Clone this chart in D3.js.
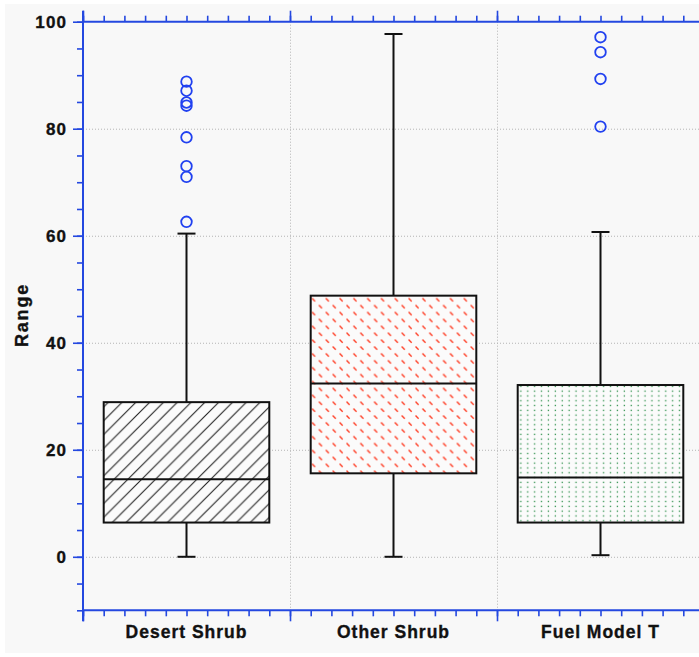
<!DOCTYPE html>
<html>
<head>
<meta charset="utf-8">
<script src="https://cdn.jsdelivr.net/npm/d3@7"></script>
<style>
  html, body { margin: 0; padding: 0; background: #ffffff; }
  svg { display: block; }
  text { font-family: "Liberation Sans", Arial, sans-serif; font-weight: bold; fill: #111; stroke: #111; stroke-width: 0.35px; }
</style>
</head>
<body>
<svg id="chart" width="699" height="657"></svg>
<script>
// Categories and box-plot summaries (Range values)
const categories = ["Desert Shrub", "Other Shrub", "Fuel Model T"];
const whiskerLow  = [0.0, 0.0, 0.3];
const q1          = [6.4, 15.6, 6.4];
const median      = [14.5, 32.4, 14.8];
const q3          = [28.9, 48.8, 32.1];
const whiskerHigh = [60.4, 97.7, 60.7];
const outliers = [
  [88.8, 87.1, 84.9, 84.3, 78.4, 73.0, 71.0, 62.6],
  [],
  [97.1, 94.3, 89.3, 80.4]
];
const patternIds = ["hatchDesert", "dashOther", "dotsFuel"];

// Axis ticks
const yMajorTicks = [0, 20, 40, 60, 80, 100];
const yMinorTicks = d3.range(-10, 100.001, 5);
const yGridTicks  = [0, 20, 40, 60, 80];

const W = 699, H = 657;
const plotLeft = 83, plotRight = 704, plotTop = 21.7, plotBottom = 610.3;
const axisBlue = "#2448e0";

const svg = d3.select("#chart");

// Background panel
svg.append("rect").attr("x", 0).attr("y", 0).attr("width", W).attr("height", H).attr("fill", "#ffffff");
svg.append("rect").attr("x", 5).attr("y", 4).attr("width", W - 5).attr("height", H - 8).attr("fill", "#f8f8f8");

// Fill patterns
const defs = svg.append("defs");
const p1 = defs.append("pattern").attr("id", "hatchDesert").attr("patternUnits", "userSpaceOnUse")
  .attr("width", 13.8).attr("height", 13.8);
p1.append("rect").attr("width", 13.8).attr("height", 13.8).attr("fill", "#fbfbfb");
p1.append("path").attr("d", "M-1,14.8 L14.8,-1 M-4,4 L4,-4 M9.8,17.8 L17.8,9.8")
  .attr("stroke", "#222").attr("stroke-width", 1.1).attr("fill", "none");

const p2 = defs.append("pattern").attr("id", "dashOther").attr("patternUnits", "userSpaceOnUse")
  .attr("width", 13.8).attr("height", 13.8);
p2.append("rect").attr("width", 13.8).attr("height", 13.8).attr("fill", "#fbfbfb");
p2.append("path").attr("d", "M1.5,1.5 L4.6,4.6 M8.4,8.4 L11.5,11.5")
  .attr("stroke", "#ff3b22").attr("stroke-width", 1.4).attr("fill", "none");

const p3 = defs.append("pattern").attr("id", "dotsFuel").attr("patternUnits", "userSpaceOnUse")
  .attr("width", 6.9).attr("height", 4.8);
p3.append("rect").attr("width", 6.9).attr("height", 4.8).attr("fill", "#fbfbfb");
p3.append("rect").attr("x", 2.7).attr("y", 1.7).attr("width", 1.3).attr("height", 1.3).attr("fill", "#2a8f48");

// Scales
const x = d3.scaleBand().domain(categories).range([plotLeft, plotRight]).paddingInner(0).paddingOuter(0);
const y = d3.scaleLinear().domain([-10, 100]).range([plotBottom, plotTop]);
const xMinor = d3.scaleLinear().domain([0, categories.length]).range([plotLeft, plotRight]);

// Grid lines (dotted)
const grid = svg.append("g").attr("stroke", "#b4b4b4").attr("stroke-width", 1).attr("stroke-dasharray", "1,2");
grid.selectAll("line.h").data(yGridTicks).join("line").attr("class", "h")
  .attr("x1", plotLeft).attr("x2", plotRight).attr("y1", d => y(d) + 0.5).attr("y2", d => y(d) + 0.5);
grid.selectAll("line.v").data(categories.slice(1)).join("line").attr("class", "v")
  .attr("x1", d => x(d) + 0.5).attr("x2", d => x(d) + 0.5).attr("y1", plotTop).attr("y2", plotBottom);

// Box plots
const boxW = x.bandwidth() * 0.8;
const capW = 18;
const boxes = svg.append("g");
categories.forEach((c, i) => {
  const cx = x(c) + x.bandwidth() / 2;
  const g = boxes.append("g");
  // whiskers
  g.append("line").attr("x1", cx).attr("x2", cx).attr("y1", y(q3[i])).attr("y2", y(whiskerHigh[i]))
    .attr("stroke", "#111").attr("stroke-width", 2);
  g.append("line").attr("x1", cx).attr("x2", cx).attr("y1", y(q1[i])).attr("y2", y(whiskerLow[i]))
    .attr("stroke", "#111").attr("stroke-width", 2);
  g.append("line").attr("x1", cx - capW / 2).attr("x2", cx + capW / 2)
    .attr("y1", y(whiskerHigh[i])).attr("y2", y(whiskerHigh[i])).attr("stroke", "#111").attr("stroke-width", 2);
  g.append("line").attr("x1", cx - capW / 2).attr("x2", cx + capW / 2)
    .attr("y1", y(whiskerLow[i])).attr("y2", y(whiskerLow[i])).attr("stroke", "#111").attr("stroke-width", 2);
  // box
  g.append("rect").attr("x", cx - boxW / 2).attr("y", y(q3[i]))
    .attr("width", boxW).attr("height", y(q1[i]) - y(q3[i]))
    .attr("fill", `url(#${patternIds[i]})`).attr("stroke", "#111").attr("stroke-width", 2);
  // median
  g.append("line").attr("x1", cx - boxW / 2).attr("x2", cx + boxW / 2)
    .attr("y1", y(median[i])).attr("y2", y(median[i])).attr("stroke", "#111").attr("stroke-width", 2);
  // outliers
  g.selectAll("circle").data(outliers[i]).join("circle")
    .attr("cx", cx).attr("cy", d => y(d)).attr("r", 5.3)
    .attr("fill", "none").attr("stroke", "#2141f0").attr("stroke-width", 1.8);
});

// Axes
const axes = svg.append("g");
// left minor ticks
axes.append("g").attr("transform", `translate(${plotLeft},0)`)
  .call(d3.axisLeft(y).tickValues(yMinorTicks).tickSize(6).tickFormat(""))
  .call(g => g.select(".domain").remove());
// left major ticks with labels
const yMajor = axes.append("g").attr("transform", `translate(${plotLeft},0)`)
  .call(d3.axisLeft(y).tickValues(yMajorTicks).tickSize(10).tickPadding(7).tickFormat(d3.format("d")))
  .call(g => g.select(".domain").remove());
yMajor.selectAll("text").attr("font-size", 17).attr("letter-spacing", "1.2px")
  .attr("font-family", "Liberation Sans, Arial, sans-serif").attr("font-weight", "bold").attr("fill", "#111")
  .attr("dx", "1.2px");

// top & bottom minor ticks
const minorX = d3.range(0, categories.length * 10 + 1).map(k => k / 10);
const majorX = d3.range(0, categories.length + 1);
axes.append("g").attr("transform", `translate(0,${plotTop})`)
  .call(d3.axisTop(xMinor).tickValues(minorX).tickSize(6).tickFormat(""))
  .call(g => g.select(".domain").remove());
axes.append("g").attr("transform", `translate(0,${plotTop})`)
  .call(d3.axisTop(xMinor).tickValues(majorX).tickSize(11).tickFormat(""))
  .call(g => g.select(".domain").remove());
axes.append("g").attr("transform", `translate(0,${plotBottom})`)
  .call(d3.axisBottom(xMinor).tickValues(minorX).tickSize(6).tickFormat(""))
  .call(g => g.select(".domain").remove());
axes.append("g").attr("transform", `translate(0,${plotBottom})`)
  .call(d3.axisBottom(xMinor).tickValues(majorX).tickSize(11).tickFormat(""))
  .call(g => g.select(".domain").remove());

axes.selectAll(".tick line").attr("stroke", axisBlue).attr("stroke-width", 1.6);

// axis lines
axes.append("line").attr("x1", plotLeft).attr("x2", plotRight + 10).attr("y1", plotTop).attr("y2", plotTop)
  .attr("stroke", axisBlue).attr("stroke-width", 2);
axes.append("line").attr("x1", plotLeft).attr("x2", plotRight + 10).attr("y1", plotBottom).attr("y2", plotBottom)
  .attr("stroke", axisBlue).attr("stroke-width", 2);
axes.append("line").attr("x1", plotLeft).attr("x2", plotLeft).attr("y1", plotTop - 11).attr("y2", plotBottom + 11)
  .attr("stroke", axisBlue).attr("stroke-width", 2);

// Category labels
svg.append("g").selectAll("text").data(categories).join("text")
  .attr("x", d => x(d) + x.bandwidth() / 2).attr("y", 637.5)
  .attr("text-anchor", "middle").attr("font-size", 17.5).attr("letter-spacing", "1px")
  .text(d => d);

// Y axis title
svg.append("text")
  .attr("transform", `translate(28,315) rotate(-90)`)
  .attr("text-anchor", "middle").attr("font-size", 18).attr("letter-spacing", "1.8px")
  .text("Range");
</script>
</body>
</html>
